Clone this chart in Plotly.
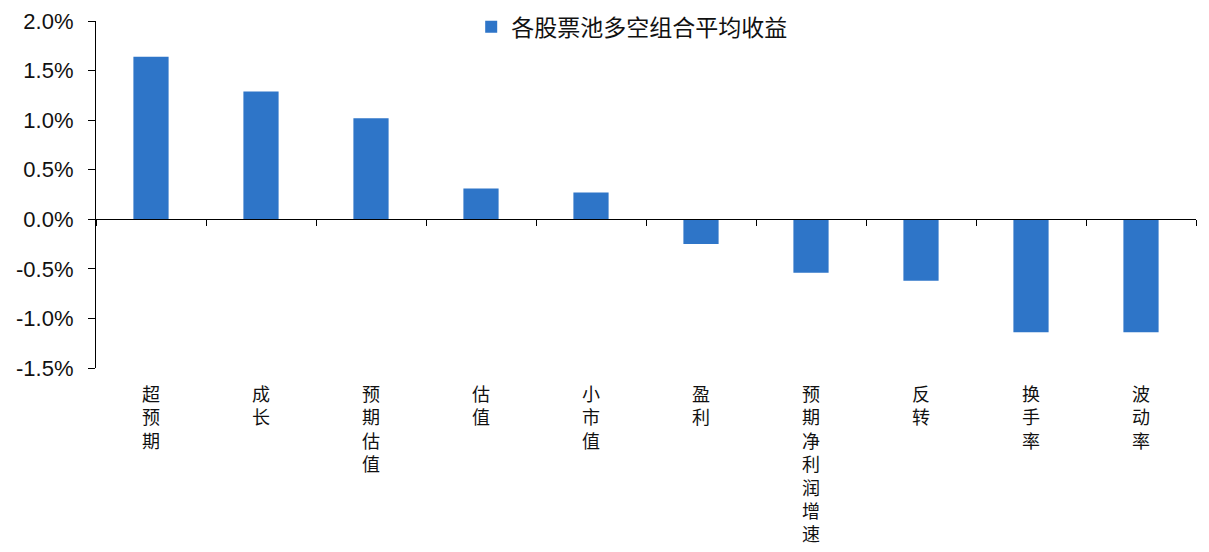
import plotly.graph_objects as go

categories = ["超预期", "成长", "预期估值", "估值", "小市值", "盈利", "预期净利润增速", "反转", "换手率", "波动率"]
values = [1.64, 1.29, 1.02, 0.31, 0.27, -0.25, -0.54, -0.62, -1.14, -1.14]
series_name = "各股票池多空组合平均收益"
y_tickvals = [2.0, 1.5, 1.0, 0.5, 0.0, -0.5, -1.0, -1.5]
y_ticktext = ["2.0%", "1.5%", "1.0%", "0.5%", "0.0%", "-0.5%", "-1.0%", "-1.5%"]

vertical_labels = ["<br>".join(list(c)) for c in categories]

BAR = "#2E75C8"
CJK = "Noto Sans CJK SC"

fig = go.Figure()
fig.add_trace(go.Bar(
    x=vertical_labels, y=values, name=series_name,
    marker=dict(color=BAR, line=dict(width=0)), width=0.32,
    xaxis="x", yaxis="y",
))
# invisible trace to carry the zero-line category axis
fig.add_trace(go.Scatter(
    x=vertical_labels, y=[0] * len(values), mode="lines",
    line=dict(width=0), showlegend=False, hoverinfo="skip",
    xaxis="x2", yaxis="y",
))

y_min, y_max = -1.5, 2.0
zero_pos = (0 - y_min) / (y_max - y_min)
x_range = [-0.5, len(categories) - 0.5]

fig.update_layout(
    width=1201, height=544,
    margin=dict(l=88, r=13, t=13, b=184, autoexpand=False),
    paper_bgcolor="white", plot_bgcolor="white",
    showlegend=True,
    legend=dict(
        x=0.487, xanchor="center", y=1.045, yanchor="top",
        font=dict(family=CJK, size=23, color="#111111"),
        bgcolor="rgba(0,0,0,0)", itemwidth=30,
    ),
    xaxis=dict(
        type="category", range=x_range,
        showline=False, showgrid=False, zeroline=False,
        ticks="", ticklabelstandoff=14, automargin=False,
        tickfont=dict(family=CJK, size=18, color="#111111"),
    ),
    xaxis2=dict(
        type="category", overlaying="x", matches="x", anchor="free",
        position=zero_pos, showline=True, linecolor="#000000", linewidth=1.2,
        ticks="outside", tickson="boundaries", ticklen=6, tickcolor="#000000",
        tickwidth=1.2, showticklabels=False, showgrid=False, zeroline=False,
        automargin=False,
    ),
    yaxis=dict(
        range=[y_min, y_max], tickvals=y_tickvals, ticktext=y_ticktext,
        showline=True, linecolor="#000000", linewidth=1.2,
        ticks="outside", ticklen=7, tickcolor="#000000", tickwidth=1.2,
        showgrid=False, zeroline=False, automargin=False, ticklabelstandoff=10,
        ticklabeloverflow="allow",
        tickfont=dict(family="Liberation Sans, Arial", size=22, color="#111111"),
    ),
)

fig.write_html("out.html")
